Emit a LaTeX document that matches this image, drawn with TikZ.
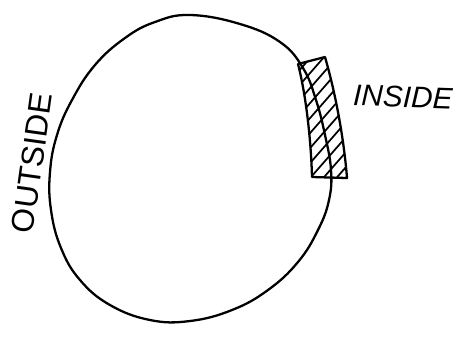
\documentclass[tikz,border=0pt]{standalone}
\usepackage{fontspec}
\setmainfont{Liberation Sans}
\usepackage{tikz}
\usetikzlibrary{calc}

\begin{document}
\begin{tikzpicture}[x=0.02cm,y=-0.02cm]
\tikzset{
  outline/.style={line width=1.3pt, line join=round},
  hatchline/.style={line width=1pt},
  handlabel/.style={inner sep=0pt, font=\fontsize{18}{20}\selectfont}
}
\useasboundingbox (0,0) rectangle (473,336);
% Strip
\begin{scope}
\clip (298,64) -- (325,57) .. controls (336,95) and (344,140) .. (347,178)
  -- (312,177) .. controls (311,140) and (306,95) .. cycle;
\foreach \y in {66,81,...,300} \draw[hatchline] (290,\y) -- (360,\y-80);
\end{scope}
\draw[outline] (298,64) -- (325,57) .. controls (336,95) and (344,140) .. (347,178)
  -- (312,177) .. controls (311,140) and (306,95) .. cycle;
% Circle
\draw[outline] plot[smooth cycle, tension=0.7] coordinates {
  (190,15) (240,24) (280,42) (303,68) (316,100) (325,135) (331,170)
  (329,200) (318,230) (298,262) (268,290) (232,310) (190,321) (150,320)
  (110,305) (80,280) (61,248) (51,210) (50,172) (57,135) (72,100) (95,65)
  (125,38) (155,22)};
% Labels
\node[handlabel, rotate=82] (outside) at (32,163) {OUTSIDE};
\node[handlabel, font=\fontsize{17}{19}\selectfont\itshape, rotate=-2] (inside) at (403,97) {INSIDE};
\end{tikzpicture}
\end{document}
